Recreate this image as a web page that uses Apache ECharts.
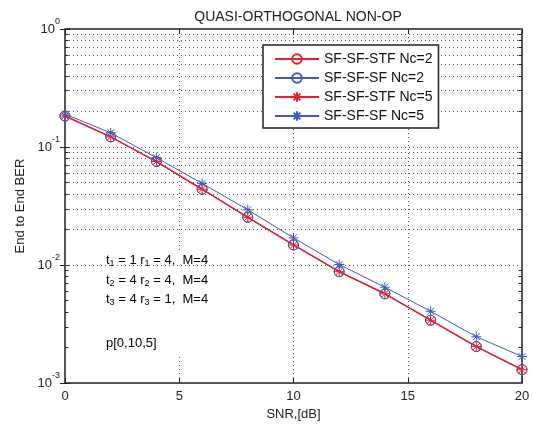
<!DOCTYPE html>
<html>
<head>
  <meta charset="UTF-8">
  <title>QUASI-ORTHOGONAL NON-OP</title>
  <style>
    html, body { margin: 0; padding: 0; background: #fff; }
    #chart { width: 533px; height: 426px; }
  </style>
</head>
<body>
  <div id="chart"></div>
  <script src="https://cdn.jsdelivr.net/npm/echarts@6/dist/echarts.min.js"></script>
  <script>
  // 数据
  var snr = [0, 2, 4, 6, 8, 10, 12, 14, 16, 18, 20];
  var berStfNc2 = [0.183, 0.122, 0.0753, 0.0439, 0.0254, 0.0148, 0.00879, 0.00571, 0.00341, 0.00204, 0.00130];
  var berSfNc2  = [0.183, 0.122, 0.0753, 0.0439, 0.0254, 0.0148, 0.00879, 0.00571, 0.00341, 0.00204, 0.00130];
  var berStfNc5 = [0.183, 0.122, 0.0753, 0.0439, 0.0254, 0.0148, 0.00879, 0.00571, 0.00341, 0.00204, 0.00130];
  var berSfNc5  = [0.190, 0.132, 0.0813, 0.0492, 0.0294, 0.0170, 0.0101, 0.00649, 0.00406, 0.00247, 0.00168];
  var seriesNames = ['SF-SF-STF Nc=2', 'SF-SF-SF Nc=2', 'SF-SF-STF Nc=5', 'SF-SF-SF Nc=5'];
  var decades = [0.001, 0.01, 0.1];
  var minorSteps = [2, 3, 4, 5, 6, 7, 8, 9];

  var red = '#e6212b', blue = '#3a5bbf';
  var star = 'path://M5 0L5 10M0 5L10 5M1.5 1.5L8.5 8.5M1.5 8.5L8.5 1.5';
  var dots = [1, 3];

  function pairs(ys) {
    return snr.map(function (x, i) { return [x, ys[i]]; });
  }

  // 对数轴的次刻度网格 (2..9 x 10^n)
  var minorVals = [];
  decades.forEach(function (d) {
    minorSteps.forEach(function (m) { minorVals.push(+(d * m).toPrecision(3)); });
  });
  var markData = [];
  minorVals.forEach(function (v) { markData.push({ yAxis: v }); });
  var tickData = [];
  minorVals.forEach(function (v) {
    tickData.push([{ coord: [0, v] }, { coord: [0.15, v] }]);
    tickData.push([{ coord: [19.85, v] }, { coord: [20, v] }]);
  });

  function lineSeries(name, ys, color, symbol, width) {
    return {
      name: name,
      type: 'line',
      data: pairs(ys),
      symbol: symbol,
      symbolSize: 10,
      showAllSymbol: true,
      lineStyle: { color: color, width: width },
      itemStyle: { color: 'rgba(255,255,255,0)', borderColor: color, borderWidth: 1 },
      z: 5
    };
  }

  var labelRich = {
    b: { fontSize: 13, color: '#222', fontFamily: 'Liberation Sans' },
    s: { fontSize: 9, color: '#222', fontFamily: 'Liberation Sans', padding: [0, 0, 15, 0] }
  };
  var textRich = {
    n: { fontSize: 13, color: '#222', fontFamily: 'Liberation Sans' },
    sub: { fontSize: 9, color: '#222', fontFamily: 'Liberation Sans', padding: [7, 0, 0, 0] }
  };

  var myChart = echarts.init(document.getElementById('chart'));
  var option = {
    backgroundColor: '#fff',
    animation: false,
    textStyle: { fontFamily: 'Liberation Sans' },
    title: {
      text: 'QUASI-ORTHOGONAL NON-OP',
      left: 293, top: 5,
      textAlign: 'center',
      textStyle: { fontSize: 14, fontWeight: 'normal', color: '#222' }
    },
    grid: {
      left: 65, right: 11, top: 29, bottom: 39,
      show: true, borderColor: '#222', borderWidth: 1.5, backgroundColor: '#fff'
    },
    legend: {
      data: seriesNames,
      orient: 'vertical',
      left: 263, top: 45,
      z: 20,
      padding: [7, 6, 5, 11],
      itemGap: 5,
      itemWidth: 44,
      itemHeight: 12,
      backgroundColor: '#fff',
      borderColor: '#222',
      borderWidth: 1.5,
      borderRadius: 0,
      textStyle: { fontSize: 14, color: '#111' }
    },
    xAxis: [{
      type: 'value', min: 0, max: 20, interval: 5,
      name: 'SNR,[dB]', nameLocation: 'middle', nameGap: 24,
      nameTextStyle: { fontSize: 13, color: '#222' },
      axisLine: { show: false },
      axisTick: { inside: true, length: 5, lineStyle: { color: '#222' } },
      axisLabel: { fontSize: 13, color: '#222', margin: 7 },
      splitLine: { show: true, lineStyle: { type: dots, color: '#555', width: 1 } }
    }, {
      type: 'value', min: 0, max: 20, interval: 5, position: 'top',
      axisLine: { show: false },
      axisTick: { inside: true, length: 5, lineStyle: { color: '#222' } },
      axisLabel: { show: false },
      splitLine: { show: false }
    }],
    yAxis: [{
      type: 'log', logBase: 10, min: 0.001, max: 1,
      name: 'End to End BER', nameLocation: 'middle', nameGap: 38,
      nameTextStyle: { fontSize: 13, color: '#222' },
      axisLine: { show: false },
      axisTick: { inside: true, length: 5, lineStyle: { color: '#222' } },
      axisLabel: {
        margin: 5,
        formatter: function (v) {
          var e = Math.round(Math.log(v) / Math.LN10);
          return '{b|10}{s|' + e + '}';
        },
        rich: labelRich
      },
      splitLine: { show: true, lineStyle: { type: dots, color: '#555', width: 1 } }
    }, {
      type: 'log', logBase: 10, min: 0.001, max: 1, position: 'right',
      axisLine: { show: false },
      axisTick: { inside: true, length: 5, lineStyle: { color: '#222' } },
      axisLabel: { show: false },
      splitLine: { show: false }
    }],
    graphic: [{
      type: 'rect', left: 100, top: 252, z: 2,
      shape: { width: 179, height: 104 },
      style: { fill: '#fff' }
    }, {
      type: 'text', left: 106, top: 254, z: 3,
      style: { text: '{n|t}{sub|1}{n| = 1 r}{sub|1}{n| = 4,  M=4}', rich: textRich }
    }, {
      type: 'text', left: 106, top: 274, z: 3,
      style: { text: '{n|t}{sub|2}{n| = 4 r}{sub|2}{n| = 4,  M=4}', rich: textRich }
    }, {
      type: 'text', left: 106, top: 293, z: 3,
      style: { text: '{n|t}{sub|3}{n| = 4 r}{sub|3}{n| = 1,  M=4}', rich: textRich }
    }, {
      type: 'text', left: 106, top: 337, z: 3,
      style: { text: '{n|p[0,10,5]}', rich: textRich }
    }],
    series: [
      {
        name: 'grid-minor', type: 'line', data: [], z: 1,
        markLine: {
          silent: true, symbol: 'none', animation: false,
          label: { show: false },
          lineStyle: { type: dots, color: '#555', width: 1 },
          data: markData
        }
      },
      {
        name: 'tick-minor', type: 'line', data: [], z: 1,
        markLine: {
          silent: true, symbol: 'none', animation: false,
          label: { show: false },
          lineStyle: { type: 'solid', color: '#222', width: 1 },
          data: tickData
        }
      },
      lineSeries(seriesNames[0], berStfNc2, red, 'circle', 1),
      lineSeries(seriesNames[1], berSfNc2, blue, 'circle', 1),
      lineSeries(seriesNames[2], berStfNc5, red, star, 1.5),
      lineSeries(seriesNames[3], berSfNc5, blue, star, 1)
    ]
  };
  myChart.setOption(option);
  </script>
</body>
</html>
